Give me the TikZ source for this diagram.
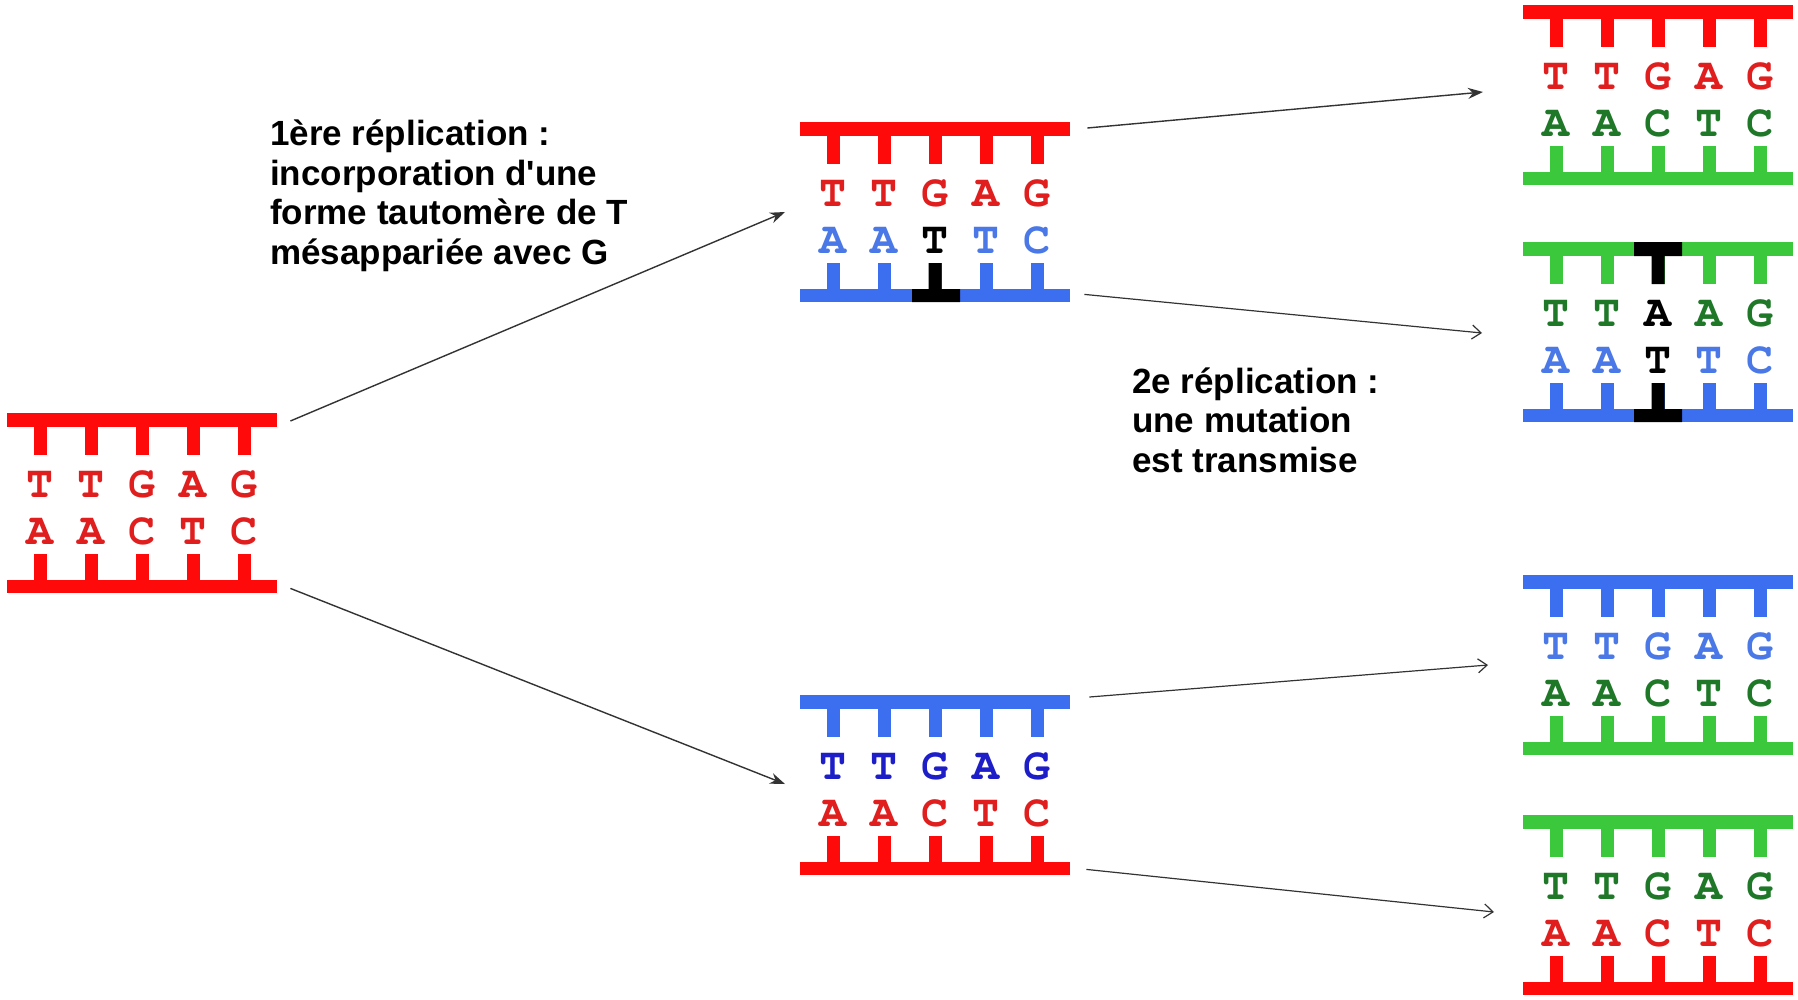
\documentclass[tikz,border=0pt]{standalone}
\usepackage{fontspec}
\setmainfont{Liberation Sans}
\usetikzlibrary{arrows.meta}

\newcommand{\basefont}{\fontencoding{T1}\fontfamily{pcr}\fontseries{b}\selectfont}

\definecolor{barred}{HTML}{FF0A0A}
\definecolor{txtred}{HTML}{E01E1E}
\definecolor{barblue}{HTML}{3C6EF0}
\definecolor{txtblue}{HTML}{4A78E6}
\definecolor{txtdkblue}{HTML}{1E1EC8}
\definecolor{bargreen}{HTML}{3CC83C}
\definecolor{txtgreen}{HTML}{1E7828}
\definecolor{arrowgray}{HTML}{333333}

\tikzset{
  ladderbox/.style={minimum width=270pt,minimum height=180pt,inner sep=0pt,anchor=north west},
  nucleo/.style={font=\basefont\fontsize{45}{45}\selectfont,inner sep=0pt,anchor=base},
  legend/.style={font=\bfseries\fontsize{35}{39.5}\selectfont,align=left,inner sep=0pt,anchor=base west},
  fullarrow/.style={draw=arrowgray,line width=1.4pt,-{Stealth[length=15pt,width=11pt]}},
  openarrow/.style={draw=arrowgray,line width=1.2pt,-{Straight Barb[length=9pt,width=14pt]}},
}

% #1 name, #2 top-left corner, #3 upper strand, #4 lower strand, #5 upper bases, #6 lower bases
\newcommand{\ladder}[6]{%
  \node[ladderbox] (#1) at #2 {};
  \begin{scope}[shift={#2}]
    \fill[#3] (0,0) rectangle (270,14);
    \fill[#4] (0,167) rectangle (270,180);
    \foreach \x in {33,84,135,186,237} {
      \fill[#3] (\x-6.5,14) rectangle (\x+6.5,42);
      \fill[#4] (\x-6.5,141) rectangle (\x+6.5,167);
    }
    \foreach \b/\c [count=\i] in {#5}
      \node[nucleo,text=\c] (#1-u\i) at ({33+51*(\i-1)},84) {\b};
    \foreach \b/\c [count=\i] in {#6}
      \node[nucleo,text=\c] (#1-l\i) at ({33+51*(\i-1)},131) {\b};
  \end{scope}}

\begin{document}
\begin{tikzpicture}[x=1pt,y=-1pt]
\useasboundingbox[fill=white] (0,0) rectangle (1798,999);

\ladder{L0}{(7,413)}{barred}{barred}
  {T/txtred,T/txtred,G/txtred,A/txtred,G/txtred}
  {A/txtred,A/txtred,C/txtred,T/txtred,C/txtred}

\ladder{M1}{(800,122)}{barred}{barblue}
  {T/txtred,T/txtred,G/txtred,A/txtred,G/txtred}
  {A/txtblue,A/txtblue,T/black,T/txtblue,C/txtblue}
\begin{scope}[shift={(800,122)}]
  \fill[black] (112,167) rectangle (160,180) (128.5,141) rectangle (141.5,167);
\end{scope}

\ladder{M2}{(800,695)}{barblue}{barred}
  {T/txtdkblue,T/txtdkblue,G/txtdkblue,A/txtdkblue,G/txtdkblue}
  {A/txtred,A/txtred,C/txtred,T/txtred,C/txtred}

\ladder{R1}{(1523,5)}{barred}{bargreen}
  {T/txtred,T/txtred,G/txtred,A/txtred,G/txtred}
  {A/txtgreen,A/txtgreen,C/txtgreen,T/txtgreen,C/txtgreen}

\ladder{R2}{(1523,242)}{bargreen}{barblue}
  {T/txtgreen,T/txtgreen,A/black,A/txtgreen,G/txtgreen}
  {A/txtblue,A/txtblue,T/black,T/txtblue,C/txtblue}
\begin{scope}[shift={(1523,242)}]
  \fill[black] (111,0) rectangle (159,14) (128.5,14) rectangle (141.5,42);
  \fill[black] (111,167) rectangle (159,180) (128.5,141) rectangle (141.5,167);
\end{scope}

\ladder{R3}{(1523,575)}{barblue}{bargreen}
  {T/txtblue,T/txtblue,G/txtblue,A/txtblue,G/txtblue}
  {A/txtgreen,A/txtgreen,C/txtgreen,T/txtgreen,C/txtgreen}

\ladder{R4}{(1523,815)}{bargreen}{barred}
  {T/txtgreen,T/txtgreen,G/txtgreen,A/txtgreen,G/txtgreen}
  {A/txtred,A/txtred,C/txtred,T/txtred,C/txtred}

\node[legend] (rep1) at (270,264) {1ère réplication :\\incorporation d\textquotesingle une\\forme tautomère de T\\mésappariée avec G};
\node[legend] (rep2) at (1132,472) {2e réplication :\\une mutation\\est transmise};

\draw[fullarrow] ([shift={(13,8)}]L0.north east) -- ([shift={(-15,90)}]M1.north west);
\draw[fullarrow] ([shift={(13,-5)}]L0.south east) -- ([shift={(-15,89)}]M2.north west);
\draw[fullarrow] ([shift={(17,6)}]M1.north east) -- ([shift={(-40,87)}]R1.north west);
\draw[openarrow] ([shift={(14,-8)}]M1.south east) -- ([shift={(-41,91)}]R2.north west);
\draw[openarrow] ([shift={(19,2)}]M2.north east) -- ([shift={(-35,90)}]R3.north west);
\draw[openarrow] ([shift={(16,-6)}]M2.south east) -- ([shift={(-29,97)}]R4.north west);
\end{tikzpicture}
\end{document}
